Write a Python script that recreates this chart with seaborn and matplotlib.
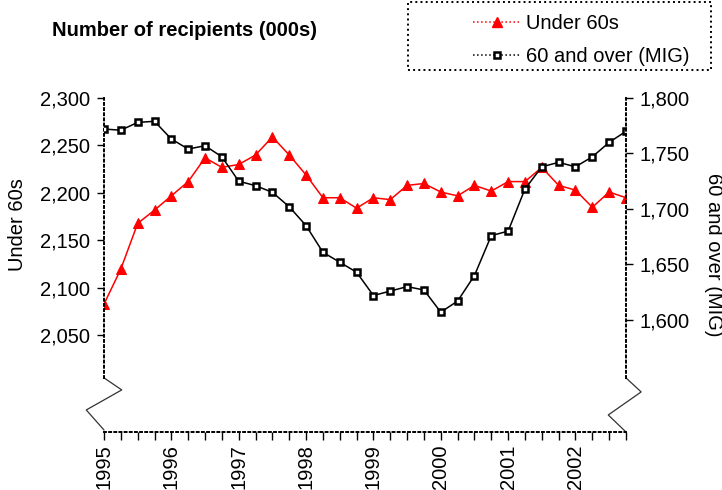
import numpy as np
import pandas as pd
import matplotlib.pyplot as plt
from matplotlib.patches import Rectangle
from matplotlib.lines import Line2D
from matplotlib.ticker import FuncFormatter
import seaborn as sns

# Quarterly figures, 1995 Q1 to 2002 Q4 (thousands)
years = ['1995', '1996', '1997', '1998', '1999', '2000', '2001', '2002']
under_60s = [2083, 2120, 2168, 2182, 2197, 2212, 2237, 2227,
             2230, 2240, 2259, 2240, 2219, 2195, 2195, 2184,
             2195, 2193, 2208, 2210, 2201, 2197, 2208, 2202,
             2212, 2212, 2227, 2208, 2203, 2185, 2201, 2195]
over_60_mig = [1772, 1771, 1778, 1779, 1763, 1754, 1757, 1747,
               1725, 1721, 1715, 1702, 1685, 1661, 1652, 1643,
               1622, 1626, 1630, 1627, 1607, 1617, 1640, 1676,
               1680, 1718, 1738, 1742, 1738, 1747, 1760, 1770]

df = pd.DataFrame({'quarter': np.arange(len(under_60s)),
                   'under_60s': under_60s,
                   'over_60': over_60_mig})

sns.set_style('ticks')
plt.rcParams['font.family'] = ['Liberation Sans', 'DejaVu Sans']
plt.rcParams['text.color'] = 'black'
plt.rcParams['xtick.color'] = 'black'
plt.rcParams['ytick.color'] = 'black'
plt.rcParams['axes.edgecolor'] = 'black'

fig = plt.figure(figsize=(7.22, 4.90), dpi=100)
ax = fig.add_axes([104/722, 1 - 432/490, 522/722, 334/490])
ax2 = ax.twinx()

red_style = dict(color='#ff0000', marker='^', markersize=6.5,
                 markeredgecolor='#ff0000', linewidth=1.1)
black_style = dict(color='black', marker='s', markersize=5,
                   markerfacecolor='white', markeredgecolor='black',
                   markeredgewidth=1.8, linewidth=1.1)

sns.lineplot(data=df, x='quarter', y='under_60s', ax=ax, legend=False, **red_style)
sns.lineplot(data=df, x='quarter', y='over_60', ax=ax2, legend=False, **black_style)

ax.set_xlim(0, 31)
ax.set_ylim(1948.4, 2300)
ax2.set_ylim(1499, 1800)

comma = FuncFormatter(lambda v, p: f'{v:,.0f}')
ax.set_yticks(range(2050, 2301, 50))
ax.yaxis.set_major_formatter(comma)
ax2.set_yticks(range(1600, 1801, 50))
ax2.yaxis.set_major_formatter(comma)

ax.set_xticks(range(0, 32, 4))
ax.set_xticklabels(years, rotation=90)
ax.set_xticks(range(32), minor=True)

ax.tick_params(axis='x', which='both', direction='out', length=6, width=1,
               labelsize=14.5, pad=3)
ax.tick_params(axis='y', direction='out', length=5, width=1, labelsize=14.5, pad=5)
ax2.tick_params(axis='y', direction='out', length=5, width=1, labelsize=14.5, pad=5)

for a in (ax, ax2):
    a.set_xlabel('')
    a.set_ylabel('')
    a.spines['top'].set_visible(False)

ax.spines['right'].set_visible(False)
ax2.spines['left'].set_visible(False)
ax2.spines['bottom'].set_visible(False)
ax.spines['left'].set_bounds(2005.3, 2300)
ax2.spines['right'].set_bounds(1547.7, 1800)
for sp in (ax.spines['left'], ax.spines['bottom'], ax2.spines['right']):
    sp.set_linestyle(':')
    sp.set_linewidth(1.4)

# axis break marks
ax.plot([0, 0.034, -0.034, 0], [0.162, 0.126, 0.066, 0.006],
        transform=ax.transAxes, clip_on=False, color='#333333', lw=0.9)
ax.plot([1, 1.029, 0.966, 1], [0.162, 0.12, 0.051, 0.0],
        transform=ax.transAxes, clip_on=False, color='#333333', lw=0.9)

fig.text(52/722, 1 - 30/490, 'Number of recipients (000s)', fontsize=14.5,
         fontweight='bold', va='center')
fig.text(18/722, 1 - 225/490, 'Under 60s', rotation=90, fontsize=14.5,
         ha='center', va='center')
fig.text(713/722, 1 - 255/490, '60 and over (MIG)', rotation=-90, fontsize=14.5,
         ha='center', va='center')

fig.patches.append(Rectangle((408/722, 1 - 70/490), 303/722, 68/490,
                             transform=fig.transFigure, fill=False,
                             ls=':', lw=1.4, ec='black'))
handles = [Line2D([], [], linestyle=':', **red_style),
           Line2D([], [], linestyle=':', **black_style)]
fig.legend(handles, ['Under 60s', '60 and over (MIG)'], loc='upper left',
           bbox_to_anchor=(455/722, 1 + 4/490), frameon=False, fontsize=14.5,
           handlelength=2.4, handletextpad=0.25, labelspacing=0.7)

fig.savefig('out.png', dpi=100)
